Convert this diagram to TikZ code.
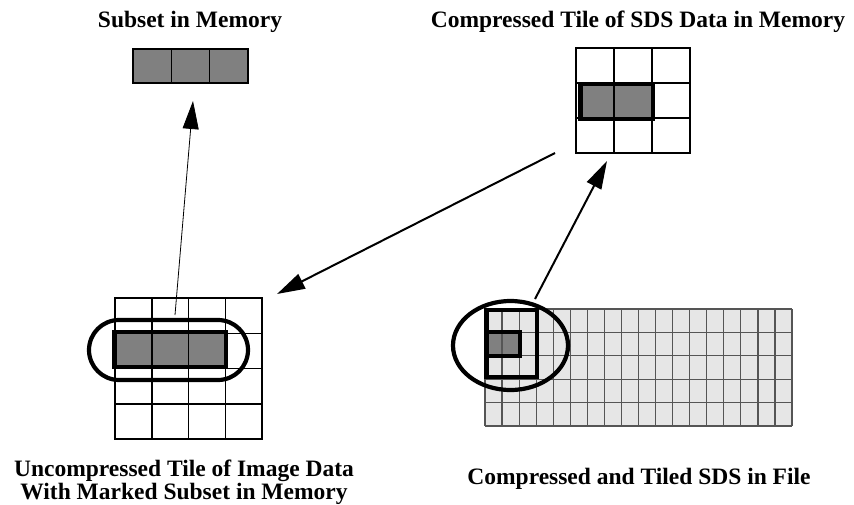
\documentclass[tikz,border=0pt]{standalone}
\usepackage{fontspec}
\setmainfont{Liberation Serif}
\usepackage{tikz}
\usetikzlibrary{arrows.meta}

\begin{document}
\begin{tikzpicture}[x=1pt, y=-1pt, >={Triangle[length=28pt, width=16pt]},
    lbl/.style={font=\bfseries\fontsize{23.5}{23}\selectfont, inner sep=0pt, align=center},
    cell/.style={line width=1.5pt},
    markbox/.style={line width=4.2pt}]
    % Màu dùng trong hình
    \definecolor{cellgray}{RGB}{128, 128, 128} % ô được chọn
    \definecolor{filegray}{RGB}{230, 230, 230} % nền lưới trong file
    \definecolor{fileline}{RGB}{85, 85, 85}    % đường lưới trong file

    \useasboundingbox (0,0) rectangle (854,504);

    % 1. Tập con trong bộ nhớ
    \node[lbl, anchor=base] (subsetlbl) at (190,27) {Subset in Memory};
    \fill[cellgray] (133,49) rectangle (248,83);
    \foreach \i in {0,1,2}
        \draw[cell] ({133+\i*38.33},49) rectangle ++(38.33,34);

    % 2. Ô nén trong bộ nhớ
    \node[lbl, anchor=base] (memlbl) at (638,27) {Compressed Tile of SDS Data in Memory};
    \fill[cellgray] (580,84) rectangle (653,119);
    \foreach \i in {0,1,2}
        \foreach \j in {0,1,2}
            \draw[cell] ({576+\i*38},{48+\j*35}) rectangle ++(38,35);
    \draw[markbox] (580.5,84) rectangle (653,119);

    % 3. Ô chưa nén, có đánh dấu tập con
    \fill[cellgray] (114.5,332) rectangle (226,367);
    \foreach \i in {0,...,3}
        \foreach \j in {0,...,3}
            \draw[cell] ({115+\i*36.75},{298+\j*35.25}) rectangle ++(36.75,35.25);
    \draw[markbox] (114.5,332) rectangle (226,367);
    \draw[markbox, rounded corners=30pt] (89,320) rectangle (248,380);
    \node[lbl, anchor=base] (tilelbl) at (184,499)
        {Uncompressed Tile of Image Data\\With Marked Subset in Memory};

    % 4. SDS nén và chia ô trong file
    \fill[filegray] (485,309) rectangle (792,426);
    \fill[cellgray] (487,332) rectangle (520,356);
    \foreach \i in {0,...,18}
        \draw[fileline, line width=1.2pt] ({485+\i*17.056},309) -- ++(0,117);
    \foreach \j in {0,...,5}
        \draw[fileline, line width=1.2pt] (485,{309+\j*23.4}) -- ++(307,0);
    \draw[markbox] (487,332) rectangle (520,356);
    \draw[markbox] (486.5,310) rectangle (537,377);
    \draw[markbox] (510.5,345.5) ellipse [x radius=57.5, y radius=44.5];
    \node[lbl, anchor=base] (filelbl) at (639,484) {Compressed and Tiled SDS in File};

    % 5. Các mũi tên
    \coordinate (tilesrc) at (175,315);
    \coordinate (subsettip) at (193,101);
    \coordinate (memsrc) at (555,153);
    \coordinate (tiletip) at (277,294);
    \coordinate (filesrc) at (535,299);
    \coordinate (memtip) at (607,161);
    \draw[->, line width=0.8pt] (tilesrc) -- (subsettip);
    \draw[->, line width=2pt] (memsrc) -- (tiletip);
    \draw[->, line width=2pt] (filesrc) -- (memtip);
\end{tikzpicture}
\end{document}
